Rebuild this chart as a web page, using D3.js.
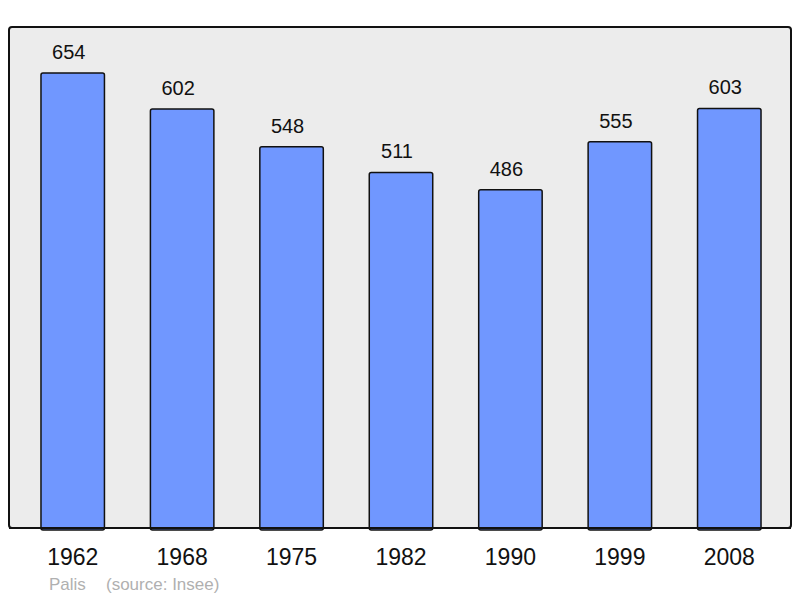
<!DOCTYPE html>
<html>
<head>
<meta charset="utf-8">
<script src="https://cdn.jsdelivr.net/npm/d3@7"></script>
<style>
  html, body { margin: 0; padding: 0; background: #fff; }
  text { font-family: 'Liberation Sans', Arial, sans-serif; }
</style>
</head>
<body>
<div id="chart"></div>
<script>
const years = ['1962', '1968', '1975', '1982', '1990', '1999', '2008']
const population = [654, 602, 548, 511, 486, 555, 603]
const place = 'Palis'
const source = '(source: Insee)'

const width = 800, height = 598
const frame = { left: 9, top: 27, right: 791, bottom: 528 }

const svg = d3.select('#chart').append('svg')
  .attr('width', width)
  .attr('height', height)

svg.append('rect')
  .attr('x', frame.left).attr('y', frame.top)
  .attr('width', frame.right - frame.left)
  .attr('height', frame.bottom - frame.top)
  .attr('rx', 3)
  .attr('fill', '#ececec')
  .attr('stroke', '#111')
  .attr('stroke-width', 2)

const x = d3.scaleBand()
  .domain(years)
  .range([18, 784])
  .paddingInner(0.42)
  .paddingOuter(0.21)

const y = d3.scaleLinear()
  .domain([0, 720])
  .range([frame.bottom, frame.top])

const data = years.map((yr, i) => ({ year: yr, value: population[i] }))

// bars
svg.append('g').selectAll('rect').data(data).enter().append('rect')
  .attr('x', d => x(d.year))
  .attr('y', d => y(d.value))
  .attr('width', x.bandwidth())
  .attr('height', d => y(0) - y(d.value) + 2)
  .attr('rx', 2)
  .attr('fill', '#7097ff')
  .attr('stroke', '#111')
  .attr('stroke-width', 1.5)

// redraw frame bottom over the bars
svg.append('line')
  .attr('x1', frame.left).attr('x2', frame.right)
  .attr('y1', frame.bottom).attr('y2', frame.bottom)
  .attr('stroke', '#111').attr('stroke-width', 2)

// value labels (sit a little left of the bar centre, as in the original)
svg.append('g').selectAll('text').data(data).enter().append('text')
  .attr('x', d => x(d.year) + x.bandwidth() / 2 - 4)
  .attr('y', d => y(d.value) - 14)
  .attr('text-anchor', 'middle')
  .style('font-size', '20px')
  .attr('fill', '#111')
  .text(d => d.value)

// year labels
svg.append('g').selectAll('text').data(data).enter().append('text')
  .attr('x', d => x(d.year) + x.bandwidth() / 2)
  .attr('y', 565)
  .attr('text-anchor', 'middle')
  .style('font-size', '23px')
  .attr('fill', '#111')
  .text(d => d.year)

// footer
svg.append('text')
  .attr('x', 49).attr('y', 590)
  .style('font-size', '17px')
  .attr('fill', '#b0b0b0')
  .text(place)
svg.append('text')
  .attr('x', 106).attr('y', 590)
  .style('font-size', '17px')
  .attr('fill', '#b0b0b0')
  .text(source)
</script>
</body>
</html>
